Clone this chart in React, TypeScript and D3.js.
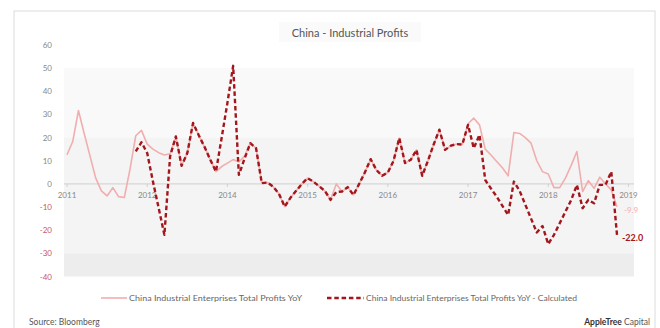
import React from "react";
import * as d3 from "d3";

const profitsYoY: number[] = [
  12.6, 18.3, 31.7, 21.8, 12.2, 2.6, -3, -5.2, -1.6, -5.5, -5.9, 6.4,
  20.8, 23.1, 17.2, 15, 13.5, 12.5, 13, 20.5, 7.8, 13.3, 26.3, 21,
  16, 10.5, 5.3, 7.5, 9, 10.5, 9.5, 12, 17.6, 15.4, 0.3, 0.6,
  -1.2, -4.3, -9.8, -6, -3, 0, 2.5, 1, -1, -3, -6.9, 0,
  -3.3, -1.4, -4.8, 0, 5, 10.7, 6, 3.5, 4.9, 10, 19.8, 9,
  10.4, 14.7, 3.5, 10, 17, 23.4, 14.7, 16.5, 17.2, 17, 26, 28.4,
  25.5, 15, 12.5, 9.7, 7, 3.5, 22.2, 21.8, 20, 17.6, 10, 5.3,
  4.3, -1.6, -1.6, 2.5, 8, 14, -3.3, 1.4, -1.9, 2.9, 0, -2.6,
  -9.9,
];

// calculated series starts at month index 12
const calcStart = 12;
const profitsCalc: number[] = [
  14, 18, 13.3, 1, -10.4, -22, 12, 20.5, 7.8, 13.3, 26.3, 21,
  16, 10.5, 5.3, 20, 35, 51, 3.9, 11, 17.6, 15.4, 0.3, 0.6,
  -1.2, -4.3, -9.8, -6, -3, 0, 2.5, 1, -1, -3, -6.9, -3.5,
  -3.3, -1.4, -4.8, 0, 5, 10.7, 6, 3.5, 4.9, 10, 19.8, 9,
  10.4, 14.7, 3.5, 10, 17, 23.4, 14.7, 16.5, 17.2, 17, 25.5, 15.4,
  21.2, 1.7, -2, -5.5, -9.5, -13.4, 1, -3, -9, -15, -21, -18.2,
  -26, -22, -17, -12, -7, -0.4, -10.5, -6.9, -8.4, -0.4, -0.4, 5.3,
  -22,
];

const yearLabels = ["2011", "2012", "2014", "2015", "2016", "2017", "2018", "2019"];
const yearIndex = [0, 14, 28, 42, 56, 70, 84, 98];
const yTicks = [60, 50, 40, 30, 20, 10, 0, -10, -20, -30, -40];
const bands = [
  { from: 50, to: 20, fill: "#f9f9f9" },
  { from: 20, to: -30, fill: "#f4f4f4" },
  { from: -30, to: -40, fill: "#ededed" },
];

const LIGHT = "#f0aeae";
const DARK = "#a3161c";
const FONT = "Lato, 'Open Sans', sans-serif";

export default function App() {
  const W = 660;
  const H = 328;
  const x = d3.scaleLinear().domain([0, 96]).range([67, 617]);
  const y = d3.scaleLinear().domain([-40, 60]).range([276.5, 45]);
  const plotL = 64;
  const plotR = 634;

  const lightLine = d3
    .line<number>()
    .x((_, i) => x(i))
    .y((d) => y(d));
  const darkLine = d3
    .line<number>()
    .x((_, i) => x(i + calcStart))
    .y((d) => y(d));

  const lastLight = profitsYoY[profitsYoY.length - 1];
  const lastCalc = profitsCalc[profitsCalc.length - 1];

  return (
    <svg
      width={W}
      height={H}
      style={{ position: "absolute", left: 0, top: 0, background: "#fff" }}
      fontFamily={FONT}
    >
      <rect x={14} y={11} width={641} height={330} fill="#fff" stroke="#dcdcdc" strokeWidth={1} />
      {/* title */}
      <rect x={279} y={22} width={142} height={20} fill="#fafafa" />
      <text x={350} y={37} textAnchor="middle" fontSize={11} fill="#555">
        China - Industrial Profits
      </text>

      {/* bands */}
      {bands.map((b, i) => (
        <rect
          key={i}
          x={plotL}
          y={y(b.from)}
          width={plotR - plotL}
          height={y(b.to) - y(b.from)}
          fill={b.fill}
        />
      ))}

      {/* y ticks */}
      {yTicks.map((t) => (
        <text
          key={t}
          x={52}
          y={y(t) + 3}
          textAnchor="end"
          fontSize={8}
          fill={t < 0 ? "#c9575a" : "#888"}
        >
          {t}
        </text>
      ))}

      {/* zero line */}
      <line x1={plotL} x2={plotR} y1={y(0)} y2={y(0)} stroke="#cfcfcf" strokeWidth={1} />
      {yearIndex.map((idx, i) => (
        <g key={yearLabels[i]}>
          <line x1={x(idx)} x2={x(idx)} y1={y(0)} y2={y(0) + 3} stroke="#cfcfcf" />
          <text x={x(idx)} y={198} textAnchor="middle" fontSize={8} fill="#888">
            {yearLabels[i]}
          </text>
        </g>
      ))}

      {/* series */}
      <path d={lightLine(profitsYoY) || ""} fill="none" stroke={LIGHT} strokeWidth={1.6} strokeLinejoin="round" />
      <path
        d={darkLine(profitsCalc) || ""}
        fill="none"
        stroke={DARK}
        strokeWidth={2.4}
        strokeDasharray="4.5,2.8"
        strokeLinejoin="round"
      />

      {/* end labels */}
      <text x={624} y={y(lastLight) + 6} fontSize={8} fill={LIGHT}>
        {lastLight.toFixed(1)}
      </text>
      <text x={622} y={y(lastCalc) + 6} fontSize={9} fontWeight="bold" fill={DARK}>
        {lastCalc.toFixed(1)}
      </text>

      {/* legend */}
      <line x1={101} x2={127} y1={298} y2={298} stroke={LIGHT} strokeWidth={1.6} />
      <text x={129} y={301} fontSize={8} fill="#666" textLength={173} lengthAdjust="spacingAndGlyphs">
        China Industrial Enterprises Total Profits YoY
      </text>
      <line x1={327} x2={364} y1={298} y2={298} stroke={DARK} strokeWidth={2.4} strokeDasharray="4.5,2.8" />
      <text x={366} y={301} fontSize={8} fill="#666" textLength={211} lengthAdjust="spacingAndGlyphs">
        China Industrial Enterprises Total Profits YoY - Calculated
      </text>

      {/* footer */}
      <text x={29} y={325} fontSize={8.5} fill="#555">
        Source: Bloomberg
      </text>
      <text x={650} y={325} fontSize={8.5} textAnchor="end" fill="#333">
        <tspan fontWeight="bold">AppleTree</tspan>
        <tspan fill="#555"> Capital</tspan>
      </text>
    </svg>
  );
}
